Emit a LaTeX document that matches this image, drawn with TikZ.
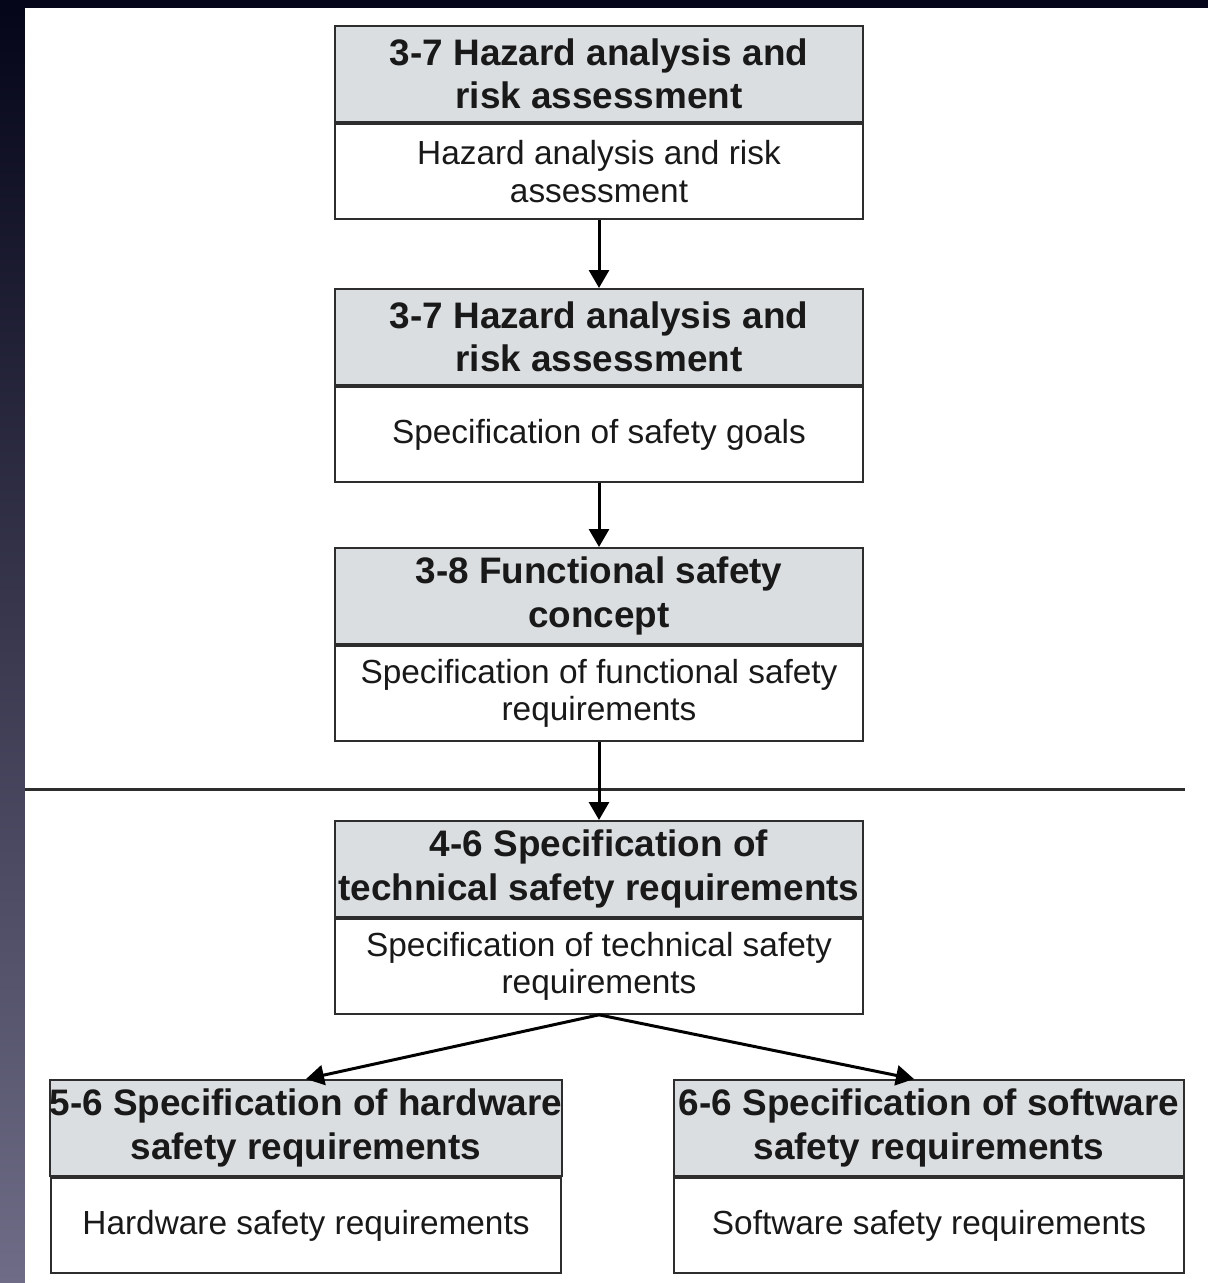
\documentclass[tikz,border=0pt]{standalone}
\usepackage{fontspec}
\setmainfont{Liberation Sans}
\usetikzlibrary{arrows.meta,positioning}
\definecolor{headgray}{RGB}{219,222,225}
\definecolor{framedark}{RGB}{6,6,26}
\definecolor{framelight}{RGB}{110,108,134}
\definecolor{rulegray}{RGB}{45,45,45}

\begin{document}
\begin{tikzpicture}[x=0.02cm,y=0.02cm]
    \tikzstyle{every node}+=[inner sep=0pt, text=black!90]
    \tikzstyle{headbox}=[draw=rulegray, line width=1.1pt, fill=headgray, align=center, minimum height=1.92cm, anchor=north, font=\bfseries\fontsize{21}{24.5}\selectfont]
    \tikzstyle{bodybox}=[draw=rulegray, line width=1.1pt, fill=white, align=center, minimum height=1.9cm, font=\fontsize{19}{21.5}\selectfont]
    \tikzstyle{flow}=[black, line width=1.7pt, -{Triangle[width=0.4cm,length=0.36cm]}]
    \useasboundingbox (0,0) rectangle (1208,-1283);
    \fill [framedark] (0,0) rectangle (1208,-8);
    \shade [top color=framedark, bottom color=framelight] (0,-8) rectangle (25,-1283);
    \fill [white] (25,-8) rectangle (1208,-1283);
    \node [headbox, minimum width=10.56cm] (harahead) at (599,-25) {3-7 Hazard analysis and\\risk assessment};
    \node [bodybox, minimum width=10.56cm, below=0pt of harahead] (harabody) {Hazard analysis and risk\\assessment};
    \node [headbox, minimum width=10.56cm] (goalhead) at (599,-288) {3-7 Hazard analysis and\\risk assessment};
    \node [bodybox, minimum width=10.56cm, below=0pt of goalhead] (goalbody) {Specification of safety goals};
    \node [headbox, minimum width=10.56cm] (fschead) at (599,-547) {3-8 Functional safety\\concept};
    \node [bodybox, minimum width=10.56cm, below=0pt of fschead] (fscbody) {Specification of functional safety\\requirements};
    \coordinate (sepleft) at (25,-789);
    \coordinate (sepright) at (1185,-789);
    \draw [rulegray, line width=1.7pt] (sepleft) -- (sepright);
    \node [headbox, minimum width=10.56cm] (tsrhead) at (599,-820) {4-6 Specification of\\technical safety requirements};
    \node [bodybox, minimum width=10.56cm, below=0pt of tsrhead] (tsrbody) {Specification of technical safety\\requirements};
    \node [headbox, minimum width=10.2cm] (hsrhead) at (306,-1079) {5-6 Specification of hardware\\safety requirements};
    \node [bodybox, minimum width=10.2cm, below=0pt of hsrhead] (hsrbody) {Hardware safety requirements};
    \node [headbox, minimum width=10.2cm] (ssrhead) at (929,-1079) {6-6 Specification of software\\safety requirements};
    \node [bodybox, minimum width=10.2cm, below=0pt of ssrhead] (ssrbody) {Software safety requirements};
    \draw [flow] (harabody) -- (goalhead);
    \draw [flow] (goalbody) -- (fschead);
    \draw [flow] (fscbody) -- (tsrhead);
    \draw [flow] (tsrbody.south) -- (hsrhead.north);
    \draw [flow] (tsrbody.south) -- ([xshift=-0.3cm]ssrhead.north);
\end{tikzpicture}
\end{document}
